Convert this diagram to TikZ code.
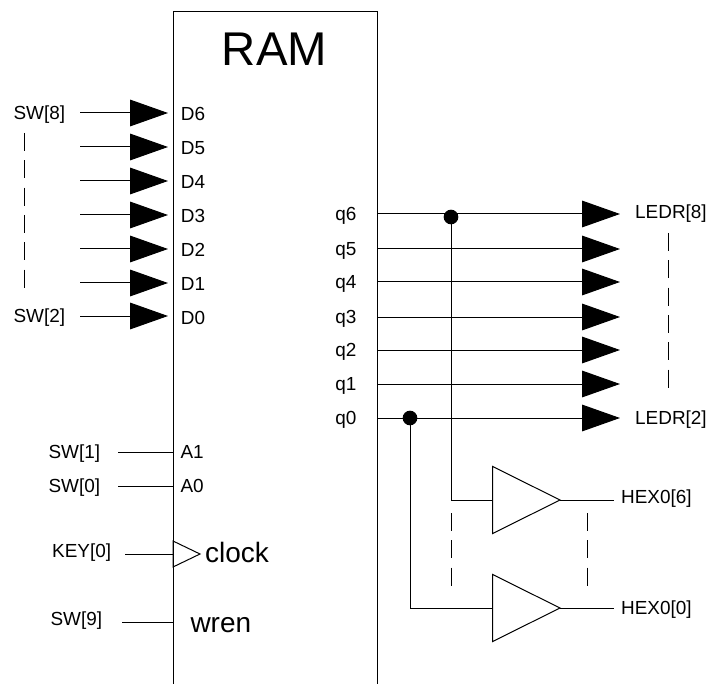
\documentclass[tikz,border=0pt]{standalone}
\usepackage{fontspec}
\setmainfont{Liberation Sans}
\usetikzlibrary{arrows.meta,positioning,shapes.geometric}

\begin{document}
\begin{tikzpicture}[x=0.75pt, y=-0.75pt, line width=0.75pt,
    lbl/.style={font=\fontsize{14.2}{16}\selectfont, inner ysep=0pt, inner xsep=0pt, text height=10pt, text depth=0pt},
    biglbl/.style={font=\fontsize{21}{24}\selectfont, inner sep=0pt, text depth=0pt},
    bus/.style={-{Triangle[length=28.5pt,width=20pt]}},
    wire/.style={draw=black},
    gap/.style={dash pattern=on 13.5pt off 7pt},
    dot/.style={circle, fill=black, inner sep=0pt, minimum size=11pt},
    buffer/.style={isosceles triangle, isosceles triangle stretches, draw, fill=white, inner sep=0pt, outer sep=0pt, minimum width=50.25pt, minimum height=50.5pt}]

    \useasboundingbox (0,0) rectangle (710,684);

    % RAM block, open at the bottom
    \node[minimum width=152.25pt, minimum height=504pt, inner sep=0pt, anchor=north west] (ram) at (173,12) {};
    \draw (ram.south west) |- (ram.north east) -- (ram.south east);
    \node[font=\fontsize{35.5}{40}\selectfont, inner sep=0pt] (ramtitle) at (274.5,49) {RAM};

    % Data inputs
    \foreach \i/\y in {6/113, 5/147, 4/181, 3/215, 2/249, 1/283, 0/316} {
        \coordinate (in\i) at (80,\y);
        \node[lbl, anchor=west, inner xsep=9.25pt, text height=12pt] (D\i) at (168,\y) {D\i};
        \draw[bus] (in\i) -- (D\i.west);
    }
    \node[lbl, left=10.75pt of in6] (sw8) {SW[8]};
    \node[lbl, left=10.75pt of in0] (sw2) {SW[2]};
    \coordinate (swgaptop) at (24,133);
    \coordinate (swgapbot) at (24,288);
    \draw[gap] (swgaptop) -- (swgapbot);

    % Address, clock, write enable
    \node[lbl, anchor=west, inner xsep=5.25pt] (A1) at (173,452) {A1};
    \node[lbl, anchor=west, inner xsep=5.25pt] (A0) at (173,486) {A0};
    \node[lbl, anchor=east, inner xsep=13pt] (sw1) at (118,452) {SW[1]};
    \node[lbl, anchor=east, inner xsep=13pt] (sw0) at (118,486) {SW[0]};
    \draw[wire] (sw1) -- (A1);
    \draw[wire] (sw0) -- (A0);

    \node[isosceles triangle, isosceles triangle stretches, draw, inner sep=0pt, outer sep=0pt, minimum width=19.5pt, minimum height=20.25pt, anchor=lower side] (clk) at (173,554) {};
    \node[biglbl, text height=12pt, right=3.5pt of clk.apex] (clock) {clock};
    \node[lbl, anchor=east, inner xsep=10pt, text height=5.5pt] (key0) at (125,554) {KEY[0]};
    \draw[wire] (key0) -- (clk.lower side);

    \node[biglbl, text height=15.5pt, anchor=west, inner xsep=12.75pt] (wren) at (173,622) {wren};
    \node[lbl, anchor=east, inner xsep=14.5pt, text height=5.5pt] (sw9) at (122,622) {SW[9]};
    \draw[wire] (sw9) -- (wren);

    % Data outputs
    \foreach \i/\y in {6/214, 5/249, 4/282, 3/317, 2/350, 1/384, 0/418} {
        \coordinate (out\i) at (620,\y);
        \node[lbl, anchor=east, inner xsep=15pt] (q\i) at (377,\y) {q\i};
        \draw[bus] (q\i.east) -- (out\i);
    }
    \node[lbl, right=11pt of out6, yshift=1.5pt] (ledr8) {LEDR[8]};
    \node[lbl, right=11pt of out0] (ledr2) {LEDR[2]};
    \coordinate (ledrgaptop) at (668,233);
    \coordinate (ledrgapbot) at (668,389);
    \draw[gap] (ledrgaptop) -- (ledrgapbot);

    % Buffers to HEX0
    \node[buffer, anchor=apex] (buf6) at (560,500) {};
    \node[buffer, anchor=apex] (buf0) at (560,608) {};
    \node[dot] (dot6) at (451,217) {};
    \node[dot] (dot0) at (410,418) {};
    \draw[wire] (dot6.center) |- (buf6.lower side);
    \draw[wire] (dot0.center) |- (buf0.lower side);

    \node[lbl, anchor=west, inner xsep=5pt, text height=5.5pt] (hex6) at (614,500) {HEX0[6]};
    \node[lbl, anchor=west, inner xsep=5pt] (hex0) at (614,608) {HEX0[0]};
    \draw[wire] (buf6.apex) -- (hex6);
    \draw[wire] (buf0.apex) -- (hex0);

    \coordinate (gapaT) at (451,513);
    \coordinate (gapaB) at (451,586);
    \coordinate (gapbT) at (587,513);
    \coordinate (gapbB) at (587,586);
    \draw[gap] (gapaT) -- (gapaB);
    \draw[gap] (gapbT) -- (gapbB);

\end{tikzpicture}
\end{document}
